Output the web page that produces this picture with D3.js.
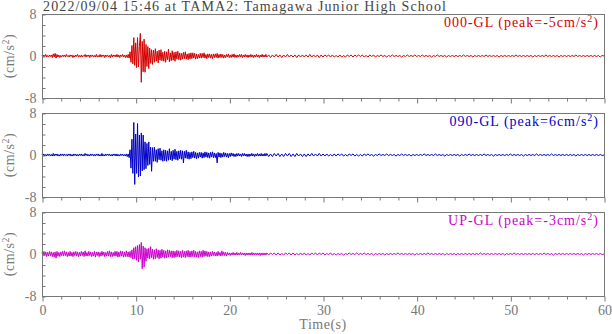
<!DOCTYPE html>
<html>
<head>
<meta charset="utf-8">
<script src="https://cdn.jsdelivr.net/npm/d3@7"></script>
<style>
  body { margin: 0; background: #fff; }
  text { font-family: "Liberation Serif", "DejaVu Serif", serif; }
</style>
</head>
<body>
<svg id="chart"></svg>
<script>
var chartWidth = 612;
var chartHeight = 334;
var padding = { left: 42, right: 8 };
var panelTops = [14, 113, 212];
var panelHeight = 84;

var title = "2022/09/04 15:46 at TAMA2: Tamagawa Junior High School";
var components = ["000-GL", "090-GL", "UP-GL"];
var peaks = [-5, 6, -3];
var colors = ["#d40000", "#0000c8", "#cc00cc"];
var yTicks = [-8, -6, -4, -2, 0, 2, 4, 6, 8];
var yLabels = [-8, 0, 8];
var xTicks = d3.range(0, 61, 2);
var xLabels = [0, 10, 20, 30, 40, 50, 60];

// samples: 0-24 s every 0.1 s, then 24-60 s every 0.2 s
// values in 0.1 cm/s^2
var fineCount = 240;
var fineStep = 0.1;
var coarseStep = 0.2;

var acc000 = [
  1,-2,2,-1,3,-2,1,-2,2,-1, 2,-3,4,-2,5,-4,3,-2,2,-3, 1,-2,2,-1,2,-2,3,-1,1,-2,
  2,-1,2,-3,1,-2,2,-1,3,-2, 1,-2,2,-2,1,-1,3,-2,2,-1, 2,-3,2,-1,2,-2,1,-2,3,-2,
  1,-2,3,-2,2,-1,2,-3,2,-1, 2,-2,1,-3,3,-2,2,-1,2,-2, 3,-2,2,-3,2,-1,3,-2,2,-3,
  2,-3,3,-4,8,-12,20,-15,35,-18, 25,-22,35,-21,18,43,-50,28,-30,32,
  -31,22,-20,18,-24,15,-14,12,-16,11, -12,14,-10,9,-13,11,-8,12,-9,7,
  -10,9,-12,8,-7,13,-11,6,-9,10, -8,7,-10,8,-6,9,-7,6,-8,5, -6,7,-5,8,-6,4,-7,5,-6,6,
  -5,6,-4,5,-6,4,-5,3,-4,5, -4,5,-3,6,-4,3,-5,4,-3,4, -4,3,-5,4,-3,4,-3,5,-4,3,
  -3,4,-3,3,-4,2,-3,3,-2,4, -3,2,-3,3,-2,4,-3,2,-3,2, -2,3,-2,3,-3,2,-2,3,-2,2,
  -3,2,-2,3,-2,2,-3,2,-2,3, -2,2,-3,2,-2,3,-2,2,-2,3,
  -2,2,-3,2,-2,3,-2,2,-3,2, -2,3,-2,2,-2,2,-3,2,-2,2, -2,2,-2,3,-2,2,-2,2,-3,2,
  -2,2,-1,2,-2,2,-2,1,-2,2, -2,1,-2,2,-1,2,-2,2,-1,2, -1,2,-2,1,-2,2,-1,2,-2,1,
  -1,2,-1,1,-2,1,-1,2,-1,1, -1,1,-2,1,-1,2,-1,1,-1,2, -1,1,-1,2,-1,1,-1,1,-2,1,
  -1,2,-1,1,-1,1,-2,1,-1,1, -1,1,-1,1,-1,2,-1,1,-1,1, -2,1,-1,1,-1,1,-1,2,-1,1,
  -1,1,-1,1,-2,1,-1,1,-1,1, -1,1,-1,2,-1,1,-1,1,-1,1, -1,1,-2,1,-1,1,-1,1,-1,2,
  -1,1,-1,1,-1,1,-2,1,-1,1, -1,1,-1,1,-1,2,-1,1,-1,1, -1,1,-1,1,-1,1,-1,1,-2,1, 0
];

var acc090 = [
  2,-1,2,-2,1,-2,2,-1,2,-2, 1,-2,3,-2,2,-1,2,-2,1,-2, 2,-1,2,-2,2,-1,1,-2,2,-1,
  2,-2,1,-2,2,-1,2,-2,1,-2, 2,-1,2,-2,1,-2,3,-1,2,-2, 1,-2,2,-1,2,-2,1,-2,2,-1,
  2,-2,1,-2,3,-2,1,-2,2,-1, 2,-1,2,-2,1,-2,2,-1,2,-2, 2,-2,1,-2,2,-1,2,-2,1,-2,
  2,-3,2,-5,10,-25,30,-35,62,-56, 40,-35,60,-42,38,-40,42,-30,38,-28,
  25,-26,22,-20,25,-18,15,-31,14,-12, 15,-12,10,-14,12,-9,13,-10,8,-12,
  10,-11,9,-12,8,-10,12,-9,7,-11, 9,-8,11,-9,7,-10,8,-7,9,-8, 8,-15,7,-6,9,-7,6,-8,5,-7,
  6,-5,7,-6,5,-7,4,-6,5,-4, 5,-6,4,-5,6,-4,5,-5,4,-6, 5,-4,6,-5,4,-5,3,-15,5,-4,
  4,-5,3,-4,5,-3,4,-4,3,-5, 3,-3,4,-2,3,-3,2,-3,3,-2, 3,-2,2,-3,3,-2,3,-2,2,-3,
  2,-3,2,-2,3,-2,2,-3,2,-2, 3,-2,2,-2,3,-2,2,-2,3,-2,
  3,-3,2,-3,3,-2,3,-3,2,-3, 3,-2,3,-3,2,-3,3,-2,2,-3, 2,-3,2,-2,3,-2,2,-2,3,-2,
  2,-2,2,-2,1,-2,2,-2,2,-1, 2,-2,1,-2,2,-1,2,-2,1,-2, 1,-2,2,-1,2,-1,1,-2,1,-1,
  2,-1,1,-1,2,-1,1,-1,1,-2, 1,-1,2,-1,1,-1,1,-2,1,-1, 1,-1,1,-1,2,-1,1,-1,1,-1,
  2,-1,1,-1,1,-2,1,-1,1,-1, 1,-1,1,-2,1,-1,1,-1,2,-1, 1,-1,1,-1,1,-1,2,-1,1,-1,
  1,-2,1,-1,1,-1,1,-1,1,-1, 2,-1,1,-1,1,-1,1,-2,1,-1, 1,-1,1,-1,2,-1,1,-1,1,-1,
  1,-1,2,-1,1,-1,1,-1,1,-1, 1,-1,1,-1,1,-2,1,-1,1,-1, 1,-1,1,-1,1,-1,1,-1,1,-1, 0
];

var accUP = [
  3,-4,5,-3,4,-5,3,-4,5,-3, 4,-5,3,-6,4,-8,5,-4,3,-5, 4,-3,5,-4,6,-3,4,-5,3,-4,
  5,-4,3,-5,4,-3,5,-4,4,-5, 3,-4,5,-3,4,-5,6,-4,3,-4, 5,-3,4,-5,3,-4,5,-6,4,-3,
  4,-5,3,-4,5,-3,4,-5,3,-4, 5,-4,6,-5,4,-5,3,-4,5,-4, 5,-6,4,-5,6,-4,5,-6,4,-5,
  6,-5,4,-6,5,-7,8,-10,12,-9, 14,-12,16,-15,18,-10,22,-28,15,-25,
  12,-14,10,-8,11,-9,14,-7,9,-10, 8,-9,10,-7,8,-9,7,-8,9,-6,
  7,-8,6,-7,8,-6,7,-5,6,-7, 6,-7,5,-6,7,-5,6,-6,5,-7, 7,-6,5,-7,6,-5,7,-6,5,-6,
  6,-5,7,-6,5,-6,4,-7,6,-5, 5,-6,7,-5,6,-4,5,-5,4,-5, 4,-4,5,-3,4,-4,3,-4,5,-3,
  3,-4,6,-3,4,-3,3,-4,3,-2, 2,-3,2,-2,3,-2,2,-2,3,-2, 2,-2,3,-2,2,-2,2,-3,2,-2,
  2,-2,2,-2,3,-2,2,-2,2,-2, 2,-2,2,-3,2,-2,2,-2,2,-2,
  2,-2,2,-1,2,-2,2,-2,1,-2, 2,-1,2,-2,2,-2,1,-2,2,-2, 2,-2,1,-2,2,-1,2,-2,2,-1,
  2,-2,1,-1,2,-2,1,-2,1,-1, 1,-2,1,-1,2,-1,1,-1,2,-1, 1,-1,2,-1,1,-1,1,-2,1,-1,
  1,-1,1,-2,1,-1,1,-1,1,-1, 2,-1,1,-1,1,-1,1,-1,1,-2, 1,-1,1,-1,1,-1,2,-1,1,-1,
  1,-1,1,-1,1,-2,1,-1,1,-1, 1,-2,1,-1,1,-1,1,-1,1,-1, 1,-1,1,-1,2,-1,1,-1,1,-1,
  1,-1,1,-1,1,-1,1,-2,1,-1, 1,-1,2,-1,1,-1,1,-1,1,-1, 1,-1,1,-1,1,-1,1,-1,2,-1,
  1,-1,1,-2,1,-1,1,-1,1,-1, 1,-1,1,-1,1,-1,1,-1,1,-2, 1,-1,1,-1,1,-1,1,-1,1,-1, 0
];

var traces = [acc000, acc090, accUP];

function timeAt(i) {
  return i < fineCount ? i * fineStep : fineCount * fineStep + (i - fineCount) * coarseStep;
}

var svg = d3.select("#chart")
    .attr("width", chartWidth)
    .attr("height", chartHeight);

var xScale = d3.scaleLinear()
    .domain([0, 60])
    .range([padding.left, chartWidth - padding.right]);

var gray = "#777";

svg.append("text")
    .attr("x", 43)
    .attr("y", 11)
    .attr("font-size", 14)
    .attr("fill", "#444")
    .attr("textLength", 403)
    .attr("lengthAdjust", "spacing")
    .text(title);

traces.forEach(function(trace, k) {
  var top = panelTops[k];
  var yScale = d3.scaleLinear()
      .domain([-8, 8])
      .range([top + panelHeight, top]);

  var panel = svg.append("g");

  var line = d3.line()
      .x(function(d, i) { return xScale(timeAt(i)); })
      .y(function(d) { return yScale(d / 10); });

  panel.append("path")
      .datum(trace)
      .attr("d", line)
      .attr("fill", "none")
      .attr("stroke", colors[k])
      .attr("stroke-width", 1);

  // frame
  panel.append("rect")
      .attr("x", padding.left + 0.5)
      .attr("y", top + 0.5)
      .attr("width", xScale(60) - padding.left)
      .attr("height", panelHeight)
      .attr("fill", "none")
      .attr("stroke", gray);

  // y axis, ticks inside
  var yAxis = d3.axisLeft(yScale)
      .tickValues(yTicks)
      .tickSizeInner(-3)
      .tickSizeOuter(0)
      .tickPadding(6)
      .tickFormat(function(d) { return yLabels.indexOf(d) >= 0 ? d : ""; });

  var yg = panel.append("g")
      .attr("transform", "translate(" + (padding.left + 0.5) + ",0.5)")
      .call(yAxis);
  yg.select(".domain").remove();
  yg.selectAll("line").attr("stroke", gray);
  yg.selectAll("text")
      .attr("font-size", 14)
      .attr("fill", gray)
      .attr("font-family", "Liberation Serif, serif");

  // x axis, ticks outside
  var xAxis = d3.axisBottom(xScale)
      .tickValues(xTicks)
      .tickSizeOuter(0)
      .tickSizeInner(3)
      .tickPadding(6)
      .tickFormat(function(d) {
        return k === 2 && xLabels.indexOf(d) >= 0 ? d : "";
      });

  var xg = panel.append("g")
      .attr("transform", "translate(0.5," + (top + panelHeight + 0.5) + ")")
      .call(xAxis);
  xg.select(".domain").remove();
  xg.selectAll("line")
      .attr("stroke", gray)
      .attr("y2", function(d) { return d % 10 === 0 ? 5 : 3; });
  xg.selectAll("text")
      .attr("font-size", 14)
      .attr("fill", gray)
      .attr("font-family", "Liberation Serif, serif");

  // y axis label
  var yl = panel.append("text")
      .attr("transform", "translate(14," + (top + panelHeight / 2) + ") rotate(-90)")
      .attr("text-anchor", "middle")
      .attr("font-size", 14)
      .attr("letter-spacing", 0.5)
      .attr("fill", gray);
  yl.append("tspan").text("(cm/s");
  yl.append("tspan").attr("font-size", 10).attr("dy", -5).text("2");
  yl.append("tspan").attr("dy", 5).text(")");

  // component label
  var cl = panel.append("text")
      .attr("x", 599)
      .attr("y", top + 13)
      .attr("text-anchor", "end")
      .attr("font-size", 14)
      .attr("letter-spacing", 1)
      .attr("fill", colors[k]);
  cl.append("tspan").text(components[k] + " (peak=" + peaks[k] + "cm/s");
  cl.append("tspan").attr("font-size", 10).attr("dy", -5).text("2");
  cl.append("tspan").attr("dy", 5).text(")");
});

svg.append("text")
    .attr("x", xScale(30))
    .attr("y", 329)
    .attr("text-anchor", "middle")
    .attr("font-size", 14)
    .attr("letter-spacing", 0.5)
    .attr("fill", gray)
    .text("Time(s)");
</script>
</body>
</html>
